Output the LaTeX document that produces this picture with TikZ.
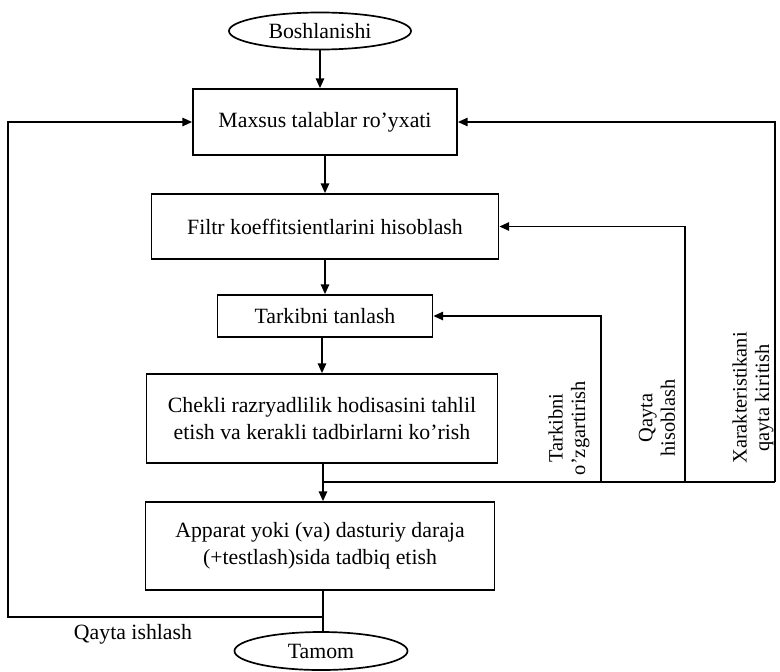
\documentclass[tikz,border=0pt]{standalone}
\usepackage{fontspec}
\setmainfont{Liberation Serif}
\usetikzlibrary{arrows.meta, positioning, shapes.geometric}

\begin{document}
\begin{tikzpicture}[x=0.025cm, y=-0.025cm, line width=1.2pt,
    blok/.style={draw, rectangle, inner sep=0pt, align=center, font=\fontsize{15.5}{19.5}\selectfont},
    chekka/.style={draw, ellipse, inner sep=0pt, font=\fontsize{15.5}{19.5}\selectfont},
    izoh/.style={rotate=90, align=center, font=\fontsize{14.5}{16}\selectfont},
    >={Triangle[length=7pt, width=6pt]}]
    \useasboundingbox (0,0) rectangle (780,671);

    % Start and end
    \node[chekka, minimum width=4.55cm, minimum height=0.925cm] (bosh) at (320,31) {Boshlanishi};
    \node[chekka, minimum width=4.325cm, minimum height=0.95cm] (tamom) at (321,651) {Tamom};

    % Main steps
    \node[blok, minimum width=6.6cm, minimum height=1.65cm] (talab) at (325,122) {Maxsus talablar ro'yxati};
    \node[blok, minimum width=8.675cm, minimum height=1.625cm] (filtr) at (325,226.5) {Filtr koeffitsientlarini hisoblash};
    \node[blok, minimum width=5.375cm, minimum height=1.05cm] (tarkib) at (325,316) {Tarkibni tanlash};
    \node[blok, minimum width=8.775cm, minimum height=2.225cm] (tahlil) at (322,418.5) {Chekli razryadlilik hodisasini tahlil\\etish va kerakli tadbirlarni ko'rish};
    \node[blok, minimum width=8.725cm, minimum height=2.2cm] (tadbiq) at (320,546) {Apparat yoki (va) dasturiy daraja\\(+testlash)sida tadbiq etish};

    % Down arrows
    \draw[->] (bosh) -- (bosh |- talab.north);
    \draw[->] (talab.south -| filtr) -- (filtr);
    \draw[->] (filtr.south -| tarkib) -- (tarkib);
    \draw[->] (tarkib.south -| tahlil) -- (tahlil);
    \draw[->] (tahlil.south -| 323,0) -- (tadbiq.north -| 323,0);

    % Feedback lines on the right
    \coordinate (tugun) at (323,482);
    \coordinate (o1) at (601,482);
    \coordinate (o2) at (685,482);
    \coordinate (o3) at (775,482);
    \draw (tugun) -- (o3);
    \draw[->] (o1) |- (tarkib);
    \draw[->] (o2) |- (filtr);
    \draw[->] (o3) |- (talab);
    \node[izoh] (l1) at (569,428) {Tarkibni\\o'zgartirish};
    \node[izoh] (l2) at (657,418) {Qayta\\hisoblash};
    \node[izoh] (l3) at (753,398) {Xarakteristikani\\qayta kiritish};

    % Loop back on the left
    \coordinate (past) at (323,617);
    \coordinate (chap) at (8,617);
    \draw (tadbiq.south -| past) -- (tamom.north -| past);
    \draw[->] (past) -- (chap) |- (talab);
    \node[font=\fontsize{15.5}{19.5}\selectfont] (qayta) at (133,634) {Qayta ishlash};
\end{tikzpicture}
\end{document}
